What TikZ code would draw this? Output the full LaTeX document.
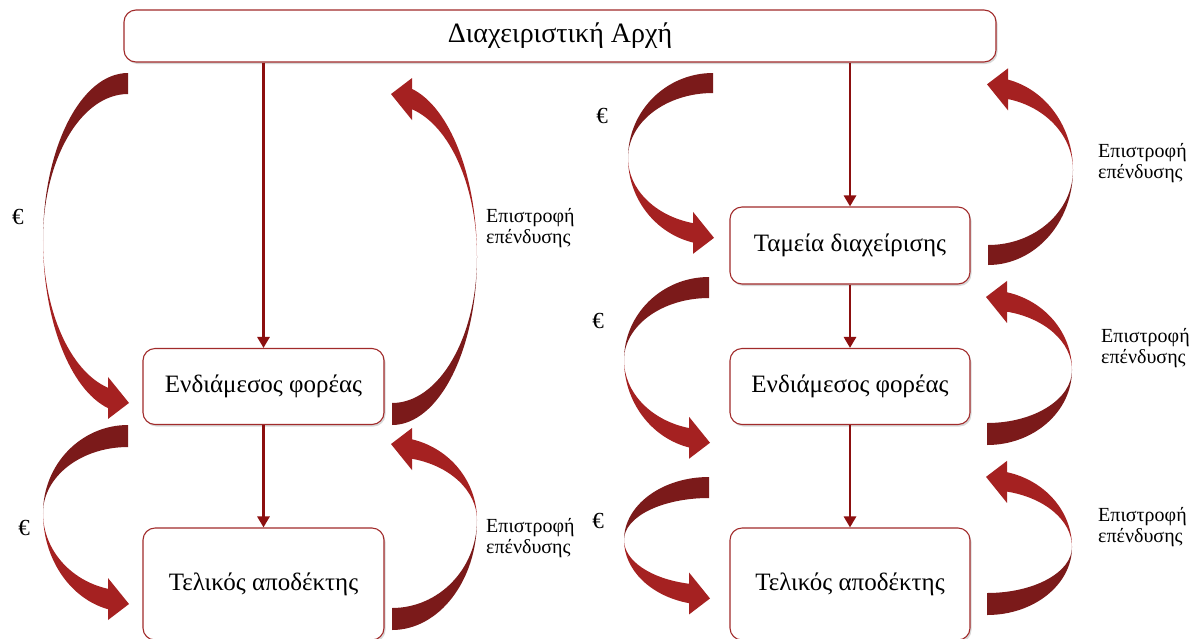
\documentclass[tikz,border=0pt]{standalone}
\usepackage{fontspec}
\setmainfont{Liberation Serif}
\usetikzlibrary{arrows.meta,shadows}
\definecolor{boxred}{HTML}{A12B2B}
\definecolor{linered}{HTML}{8C0F0F}
\definecolor{arrdark}{HTML}{7B1A1A}
\definecolor{arrbright}{HTML}{A52121}
\tikzset{
 box/.style={draw=boxred, line width=1.1pt, rounded corners=12pt, fill=white,
   drop shadow={shadow xshift=1.5pt,shadow yshift=-2pt,opacity=0.3},
   font=\fontsize{25}{29}\selectfont, inner sep=0pt},
 conn/.style={draw=linered, line width=2.8pt, -{Triangle[length=11pt,width=12pt]}},
 lbl/.style={font=\fontsize{20}{21}\selectfont, align=left, inner sep=0pt, anchor=west},
 eur/.style={font=\fontsize{23}{25}\selectfont, inner sep=0pt},
}
% left-bulging curved arrow: tail x, centre y, upper outer/inner radius, lower outer/inner radius
\newcommand\LCurve[6]{%
 \fill[arrdark] (#1,#2-#3) arc[start angle=270,end angle=180,x radius=85,y radius=#3]
   arc[start angle=180,end angle=270,x radius=85,y radius=#4] -- cycle;
 \fill[arrbright] (#1-85,#2) arc[start angle=180,end angle=103.61,x radius=85,y radius=#5]
   -- (#1-20,{#2+0.486*(#5+#6)+21}) -- (#1+1,{#2+0.486*(#5+#6)+5})
   -- (#1-20,{#2+0.486*(#5+#6)-21}) -- (#1-20,{#2+0.972*#6})
   arc[start angle=103.61,end angle=180,x radius=85,y radius=#6] -- cycle;
}
% right-bulging curved arrow: tail x, centre y, lower outer/inner radius, upper outer/inner radius
\newcommand\RCurve[6]{%
 \fill[arrdark] (#1,#2+#3) arc[start angle=90,end angle=0,x radius=85,y radius=#3]
   arc[start angle=0,end angle=90,x radius=85,y radius=#4] -- cycle;
 \fill[arrbright] (#1+85,#2) arc[start angle=360,end angle=283.61,x radius=85,y radius=#5]
   -- (#1+20,{#2-0.486*(#5+#6)-21}) -- (#1-1,{#2-0.486*(#5+#6)-5})
   -- (#1+20,{#2-0.486*(#5+#6)+21}) -- (#1+20,{#2-0.972*#6})
   arc[start angle=283.61,end angle=360,x radius=85,y radius=#6] -- cycle;
}
\begin{document}
\begin{tikzpicture}[x=1pt,y=-1pt]
\useasboundingbox (0,0) rectangle (1194,638);
\fill[white] (0,0) rectangle (1194,638);

% boxes
\node[box, minimum width=872pt, minimum height=52pt, font=\fontsize{28}{32}\selectfont] (top) at (560,36) {Διαχειριστική Αρχή};
\node[box, minimum width=241pt, minimum height=76pt] (ibL) at (263.5,386.5) {Ενδιάμεσος φορέας};
\node[box, minimum width=241pt, minimum height=112pt] (frL) at (263.5,584) {Τελικός αποδέκτης};
\node[box, minimum width=240pt, minimum height=77pt] (tdR) at (850,245.5) {Ταμεία διαχείρισης};
\node[box, minimum width=240pt, minimum height=76pt] (ibR) at (850,386.5) {Ενδιάμεσος φορέας};
\node[box, minimum width=240pt, minimum height=112pt] (frR) at (850,584) {Τελικός αποδέκτης};

% straight connectors
\draw[conn] (top.south -| ibL.north) -- (ibL.north);
\draw[conn] (ibL.south) -- (frL.north);
\draw[conn] (top.south -| tdR.north) -- (tdR.north);
\draw[conn] (tdR.south) -- (ibR.north);
\draw[conn] (ibR.south) -- (frR.north);

% curved block arrows
\LCurve{128}{240}{167}{146}{173}{152}
\LCurve{128}{513}{88}{66}{99}{78}
\LCurve{713}{158}{85}{65}{87}{67}
\LCurve{709}{360}{83}{62}{90}{70}
\LCurve{709}{540}{63}{42}{65}{45}
\RCurve{392}{257}{168}{146}{173}{152}
\RCurve{392}{520}{110}{88}{83}{63}
\RCurve{988}{170}{95}{75}{93}{73}
\RCurve{987}{370}{75}{53}{80}{60}
\RCurve{987}{547}{68}{46}{77}{57}

% labels
\node[eur] (e1) at (18,217) {€};
\node[eur] (e2) at (24,528) {€};
\node[eur] (e3) at (602,116) {€};
\node[eur] (e4) at (598,321) {€};
\node[eur] (e5) at (598,521) {€};
\node[lbl] (r1) at (486,228) {Επιστροφή\\επένδυσης};
\node[lbl] (r2) at (486,538) {Επιστροφή\\επένδυσης};
\node[lbl] (r3) at (1098,163) {Επιστροφή\\επένδυσης};
\node[lbl] (r4) at (1101,348) {Επιστροφή\\επένδυσης};
\node[lbl] (r5) at (1098,527) {Επιστροφή\\επένδυσης};
\end{tikzpicture}
\end{document}
